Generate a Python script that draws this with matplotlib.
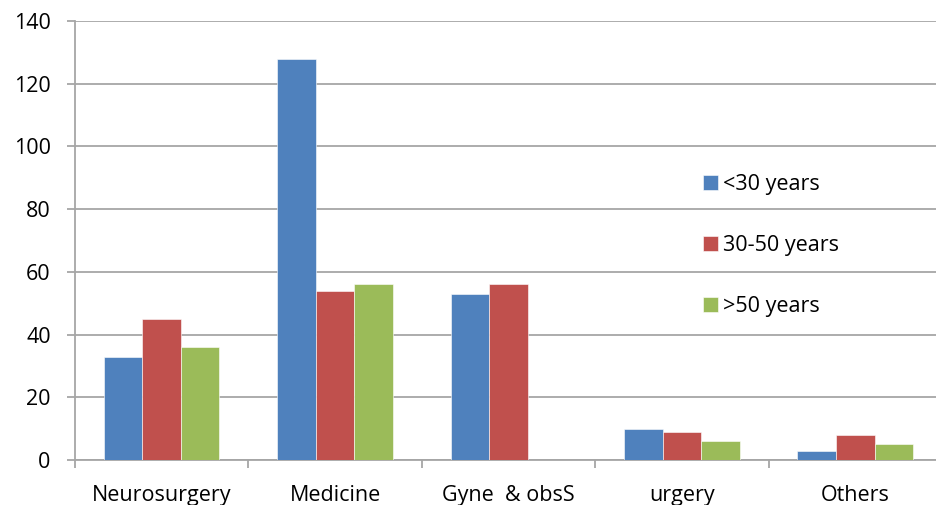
import matplotlib
matplotlib.use("Agg")
import matplotlib.pyplot as plt
import numpy as np

categories = ["Neurosurgery", "Medicine", "Gyne  & obsS", "urgery", "Others"]
series_names = ["<30 years", "30-50 years", ">50 years"]
under_30 = [33, 128, 53, 10, 3]
from_30_to_50 = [45, 54, 56, 9, 8]
over_50 = [36, 56, 0, 6, 5]
y_ticks = [0, 20, 40, 60, 80, 100, 120, 140]

colors = ["#4F81BD", "#C0504D", "#9BBB59"]
grid_color = "#A6A6A6"

plt.rcParams["font.family"] = ["Open Sans", "DejaVu Sans"]
FS = 15.5

W, H = 937, 505
fig = plt.figure(figsize=(W / 100, H / 100), dpi=100)
ax = fig.add_axes([75 / W, 45 / H, 867 / W, 439 / H])

x = np.arange(len(categories))
bw = 1 / 4.5
for i, (vals, name, c) in enumerate(zip([under_30, from_30_to_50, over_50], series_names, colors)):
    ax.bar(x + (i - 1) * bw, vals, width=bw, color=c, edgecolor="white",
           linewidth=0.4, label=name, zorder=3)

ax.set_xlim(-0.5, len(categories) - 0.5)
ax.set_ylim(0, 140)
ax.set_yticks(y_ticks)
ax.set_yticklabels([str(v) for v in y_ticks], fontsize=FS)
ax.yaxis.grid(True, color=grid_color, linewidth=1.3, zorder=0)
ax.set_axisbelow(True)

ax.set_xticks(x)
ax.set_xticklabels(categories, fontsize=FS)
ax.set_xticks(np.arange(-0.5, len(categories)), minor=True)
ax.tick_params(axis="x", which="major", length=0, pad=18)
ax.tick_params(axis="x", which="minor", length=5.5, width=1.3, color=grid_color, direction="out")
ax.tick_params(axis="y", length=5.5, width=1.3, color=grid_color, pad=12)

for s in ["top", "right"]:
    ax.spines[s].set_visible(False)
for s in ["left", "bottom"]:
    ax.spines[s].set_color(grid_color)
    ax.spines[s].set_linewidth(1.3)

leg = ax.legend(loc="upper left", bbox_to_anchor=(703 / W, 1 - 174 / H),
                bbox_transform=fig.transFigure, frameon=False, fontsize=FS,
                handlelength=0.7, handleheight=0.7, handletextpad=0.25,
                labelspacing=1.85, borderpad=0, borderaxespad=0)

fig.savefig("out.png", dpi=100)
